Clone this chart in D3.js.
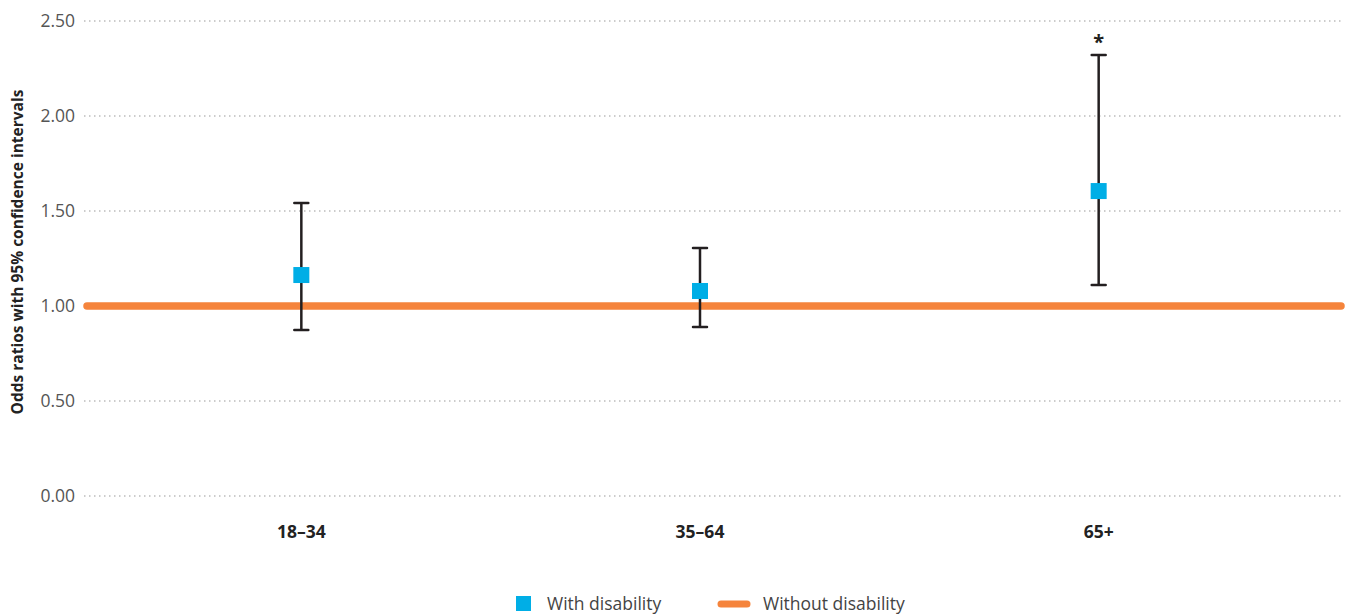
<!DOCTYPE html>
<html><head><meta charset="utf-8">
<script src="https://cdn.jsdelivr.net/npm/d3@7"></script>
<style>
body{margin:0;background:#fff;}
svg{display:block;font-family:"Open Sans","Noto Sans",sans-serif;}
</style></head>
<body><svg id="c" width="1351" height="616"></svg>
<script>
const categories = ["18–34", "35–64", "65+"];
const oddsRatio = [1.163, 1.079, 1.605];
const ciLow = [0.874, 0.889, 1.111];
const ciHigh = [1.542, 1.305, 2.321];
const significant = [false, false, true];
const referenceValue = 1.0;
const yTicks = [0, 0.5, 1.0, 1.5, 2.0, 2.5];
const seriesNames = ["With disability", "Without disability"];

const svg = d3.select("#c");
const plotLeft = 84, plotRight = 1343, plotTop = 21, plotBottom = 496;
const y = d3.scaleLinear().domain([0, 2.5]).range([plotBottom, plotTop]);
const x = d3.scaleBand().domain(categories).range([102, 1298]);

// gridlines
svg.append("g").selectAll("line").data(yTicks).join("line")
  .attr("x1", plotLeft).attr("x2", plotRight)
  .attr("y1", d => y(d)).attr("y2", d => y(d))
  .attr("stroke", "#9a9a9a").attr("stroke-width", 1.2)
  .attr("stroke-dasharray", "1.5,3.5");

// y tick labels
svg.append("g").selectAll("text").data(yTicks).join("text")
  .attr("x", 75).attr("y", d => y(d)).attr("dy", "0.35em")
  .attr("text-anchor", "end").attr("font-size", 17.5).attr("fill", "#555")
  .text(d3.format(".2f"));

// y title
svg.append("text").attr("transform", "translate(23,252) rotate(-90)")
  .attr("text-anchor", "middle").attr("font-size", 15.5).attr("font-weight", "bold")
  .attr("fill", "#222").text("Odds ratios with 95% confidence intervals");

// x labels
svg.append("g").selectAll("text").data(categories).join("text")
  .attr("x", d => x(d) + x.bandwidth() / 2).attr("y", 538)
  .attr("text-anchor", "middle").attr("font-size", 17.5).attr("font-weight", "bold")
  .attr("fill", "#222").text(d => d);

// reference line
svg.append("line").attr("x1", 87).attr("x2", 1341)
  .attr("y1", y(referenceValue)).attr("y2", y(referenceValue))
  .attr("stroke", "#f5843c").attr("stroke-width", 7.5).attr("stroke-linecap", "round");

const g = svg.append("g").selectAll("g").data(categories).join("g")
  .attr("transform", d => `translate(${x(d) + x.bandwidth() / 2},0)`);
g.append("line").attr("y1", (d, i) => y(ciLow[i])).attr("y2", (d, i) => y(ciHigh[i]))
  .attr("stroke", "#231f20").attr("stroke-width", 2.5);
g.append("line").attr("x1", -7).attr("x2", 7)
  .attr("y1", (d, i) => y(ciLow[i])).attr("y2", (d, i) => y(ciLow[i]))
  .attr("stroke", "#231f20").attr("stroke-width", 2.5).attr("stroke-linecap", "round");
g.append("line").attr("x1", -7).attr("x2", 7)
  .attr("y1", (d, i) => y(ciHigh[i])).attr("y2", (d, i) => y(ciHigh[i]))
  .attr("stroke", "#231f20").attr("stroke-width", 2.5).attr("stroke-linecap", "round");
g.append("rect").attr("x", -8).attr("width", 16).attr("height", 16)
  .attr("y", (d, i) => y(oddsRatio[i]) - 8).attr("fill", "#00aee6");
g.filter((d, i) => significant[i]).append("text")
  .attr("y", (d) => y(ciHigh[categories.indexOf(d)]) - 6)
  .attr("text-anchor", "middle").attr("font-size", 20).attr("font-weight", "bold")
  .attr("fill", "#231f20").text("*");

// legend
svg.append("rect").attr("x", 516).attr("y", 596).attr("width", 15).attr("height", 15).attr("fill", "#00aee6");
svg.append("text").attr("x", 547).attr("y", 604).attr("dy", "0.35em").attr("font-size", 17.5)
  .attr("fill", "#444").text(seriesNames[0]);
svg.append("line").attr("x1", 721).attr("x2", 747).attr("y1", 604).attr("y2", 604)
  .attr("stroke", "#f5843c").attr("stroke-width", 7).attr("stroke-linecap", "round");
svg.append("text").attr("x", 763).attr("y", 604).attr("dy", "0.35em").attr("font-size", 17.5)
  .attr("fill", "#444").text(seriesNames[1]);
</script></body></html>
